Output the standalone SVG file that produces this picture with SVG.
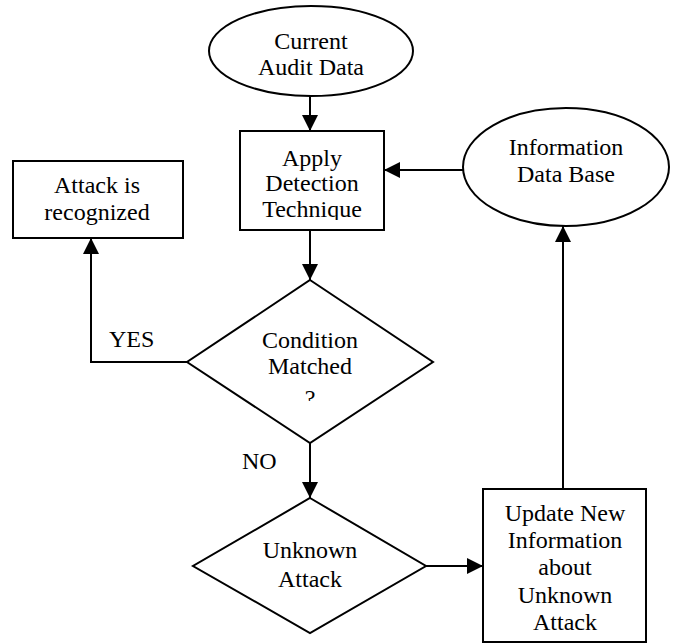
<svg xmlns="http://www.w3.org/2000/svg" width="676" height="644" viewBox="0 0 676 644">
  <style>
    .shape { fill: #ffffff; stroke: #000000; stroke-width: 2; }
    .link { fill: none; stroke: #000000; stroke-width: 2; }
    text { font-family: "Liberation Serif", "Times New Roman", serif; font-size: 24px; fill: #000000; }
    .label { text-anchor: middle; }
  </style>
  <defs>
    <marker id="arrow" markerUnits="userSpaceOnUse" markerWidth="16" markerHeight="16" refX="16" refY="8" orient="auto">
      <path d="M0,0 L16,8 L0,16 z" fill="#000000"/>
    </marker>
    <!-- text frames that cut off the lowest lines -->
    <clipPath id="clip-audit"><rect x="200" y="0" width="220" height="77"/></clipPath>
    <clipPath id="clip-technique"><rect x="240" y="131" width="144" height="89"/></clipPath>
    <clipPath id="clip-question"><rect x="280" y="385" width="60" height="16"/></clipPath>
  </defs>

  <rect width="676" height="644" fill="#ffffff"/>

  <!-- connectors -->
  <g id="connectors">
    <line class="link" x1="310" y1="96" x2="310" y2="131" marker-end="url(#arrow)"/>
    <line class="link" x1="463" y1="170" x2="384" y2="170" marker-end="url(#arrow)"/>
    <line class="link" x1="310" y1="230" x2="310" y2="280" marker-end="url(#arrow)"/>
    <polyline class="link" points="200,366 200,362 91,362 91,238" marker-end="url(#arrow)"/>
    <line class="link" x1="310" y1="443" x2="310" y2="498" marker-end="url(#arrow)"/>
    <line class="link" x1="426" y1="566" x2="483" y2="566" marker-end="url(#arrow)"/>
    <line class="link" x1="563" y1="489" x2="563" y2="226" marker-end="url(#arrow)"/>
    <text x="109" y="347">YES</text>
    <text x="242" y="469">NO</text>
  </g>

  <g id="current-audit-data">
    <ellipse class="shape" cx="311" cy="51" rx="102" ry="45"/>
    <text class="label" x="311" y="49">Current</text>
    <text class="label" x="311" y="75" clip-path="url(#clip-audit)">Audit Data</text>
  </g>

  <g id="apply-detection">
    <rect class="shape" x="240" y="131" width="144" height="99"/>
    <text class="label" x="312" y="166">Apply</text>
    <text class="label" x="312" y="191">Detection</text>
    <text class="label" x="312" y="217" clip-path="url(#clip-technique)">Technique</text>
  </g>

  <g id="information-data-base">
    <ellipse class="shape" cx="566" cy="167" rx="103" ry="59"/>
    <text class="label" x="566" y="155">Information</text>
    <text class="label" x="566" y="182">Data Base</text>
  </g>

  <g id="attack-recognized">
    <rect class="shape" x="13" y="161" width="170" height="77"/>
    <text class="label" x="97" y="193">Attack is</text>
    <text class="label" x="97" y="220">recognized</text>
  </g>

  <g id="condition-matched">
    <polygon class="shape" points="310,280 433,362 310,443 187,362"/>
    <text class="label" x="310" y="348">Condition</text>
    <text class="label" x="310" y="374">Matched</text>
    <text class="label" x="310" y="406" clip-path="url(#clip-question)">?</text>
  </g>

  <g id="unknown-attack">
    <polygon class="shape" points="310,498 426,566 310,633 193,566"/>
    <text class="label" x="310" y="558">Unknown</text>
    <text class="label" x="310" y="587">Attack</text>
  </g>

  <g id="update-information">
    <rect class="shape" x="483" y="489" width="163" height="153"/>
    <text class="label" x="565" y="521">Update New</text>
    <text class="label" x="565" y="548">Information</text>
    <text class="label" x="565" y="575">about</text>
    <text class="label" x="565" y="603">Unknown</text>
    <text class="label" x="565" y="630">Attack</text>
  </g>
</svg>
